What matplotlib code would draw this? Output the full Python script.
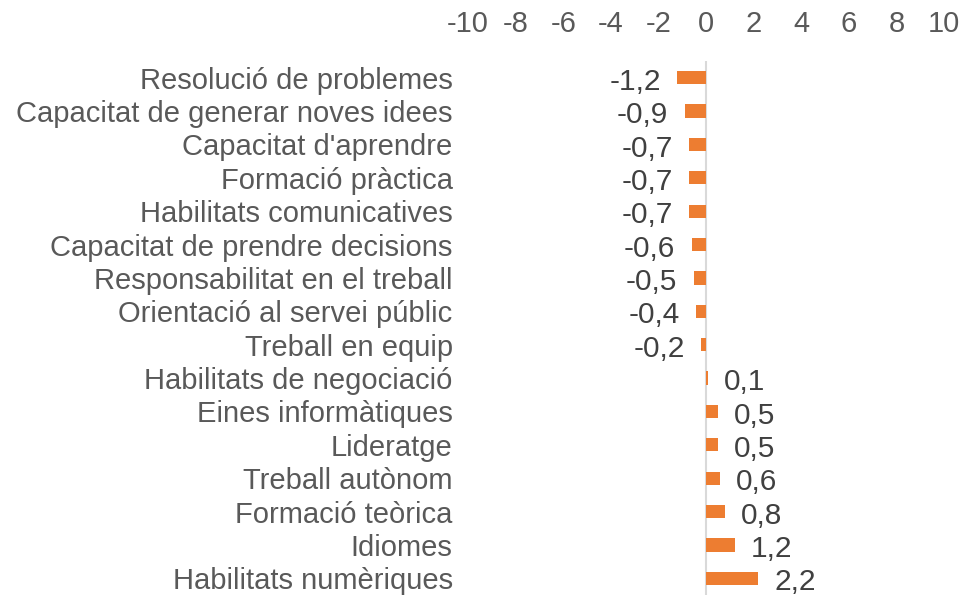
import matplotlib
matplotlib.use("Agg")
import matplotlib.pyplot as plt

# -- Data --
categories = [
    "Resolució de problemes",
    "Capacitat de generar noves idees",
    "Capacitat d'aprendre",
    "Formació pràctica",
    "Habilitats comunicatives",
    "Capacitat de prendre decisions",
    "Responsabilitat en el treball",
    "Orientació al servei públic",
    "Treball en equip",
    "Habilitats de negociació",
    "Eines informàtiques",
    "Lideratge",
    "Treball autònom",
    "Formació teòrica",
    "Idiomes",
    "Habilitats numèriques",
]
values = [-1.2, -0.9, -0.7, -0.7, -0.7, -0.6, -0.5, -0.4, -0.2,
          0.1, 0.5, 0.5, 0.6, 0.8, 1.2, 2.2]
x_ticks = [-10, -8, -6, -4, -2, 0, 2, 4, 6, 8, 10]

plt.rcParams["font.family"] = ["Liberation Sans", "DejaVu Sans"]
text_col = "#595959"
bar_col = "#ED7D31"

fig = plt.figure(figsize=(9.64, 5.95), dpi=100)
ax = fig.add_axes([468 / 964, 0.0, 476 / 964, (595 - 61) / 595])

ypos = list(range(len(categories)))
ax.barh(ypos, values, height=0.4, color=bar_col)
ax.axvline(0, color="#D9D9D9", lw=1.5, zorder=0)

# -- Value labels --
for y, v in zip(ypos, values):
    lab = f"{v:.1f}".replace(".", ",")
    if v < 0:
        ax.annotate(lab, (v, y), xytext=(-12, -3), textcoords="offset points",
                    ha="right", va="center", fontsize=21.5, color="#404040")
    else:
        ax.annotate(lab, (v, y), xytext=(11.5, -3), textcoords="offset points",
                    ha="left", va="center", fontsize=21.5, color="#404040")

ax.set_xlim(-10, 10)
ax.set_ylim(len(categories) - 0.5, -0.5)
ax.set_xticks(x_ticks)
ax.set_xticklabels([str(t) for t in x_ticks])
ax.xaxis.tick_top()
ax.tick_params(axis="x", length=0, pad=16.5, labelsize=21, labelcolor=text_col)
ax.set_yticks(ypos)
ax.set_yticklabels(categories)
ax.tick_params(axis="y", length=0, pad=11, labelsize=21, labelcolor=text_col)
for s in ax.spines.values():
    s.set_visible(False)

fig.savefig("out.png", dpi=100)
